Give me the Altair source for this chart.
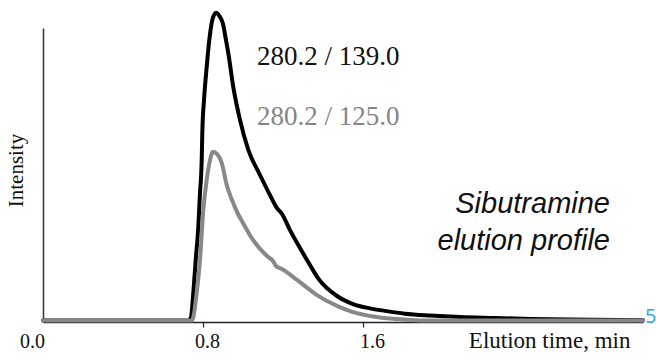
import altair as alt
import pandas as pd

# Elution time (min) and intensity (black peak = 100)
t_black = [0.0, 0.73, 0.74, 0.7515, 0.7635, 0.7765, 0.785, 0.7935, 0.7965, 0.805, 0.8185,
           0.8315, 0.8465, 0.865, 0.8815, 0.90, 0.915, 0.9265, 0.9515, 0.985, 1.0265,
           1.085, 1.135, 1.17, 1.195, 1.235, 1.285, 1.335, 1.375, 1.47, 1.55, 1.635,
           1.71, 1.81, 1.935, 2.085, 2.26, 2.435, 2.635, 3.0]
i_black = [0.5, 0.5, 1.5, 9.4, 20.0, 30.7, 41.7, 52.3, 61.1, 71.7, 82.4,
           91.1, 97.6, 99.9, 98.9, 96.3, 91.1, 86.9, 75.9, 65.3, 55.6,
           47.5, 41.0, 36.8, 34.9, 29.7, 23.9, 18.4, 14.2, 8.4, 5.8, 4.4,
           3.6, 2.7, 2.1, 1.6, 1.3, 1.0, 0.8, 0.6]

t_gray = [0.0, 0.745, 0.7515, 0.7685, 0.785, 0.8015, 0.8185, 0.835, 0.85, 0.87, 0.8935,
          0.9185, 0.945, 0.975, 1.0, 1.05, 1.12, 1.15, 1.165, 1.195, 1.27, 1.37, 1.47,
          1.55, 1.65, 1.76, 1.885, 3.0]
i_gray = [0.5, 0.5, 1.5, 9.4, 20.0, 36.2, 45.9, 52.3, 55.0, 54.3, 51.4,
          44.3, 39.4, 34.9, 32.0, 26.5, 21.3, 19.7, 18.1, 17.1, 13.6, 8.7, 5.2,
          3.2, 1.8, 1.0, 0.5, 0.5]

x_ticks = [0.0, 0.8, 1.6]
label_black = "280.2 / 139.0"
label_gray = "280.2 / 125.0"
title_lines = ["Sibutramine", "elution profile"]

df_black = pd.DataFrame({"t": t_black, "i": i_black})
df_gray = pd.DataFrame({"t": t_gray, "i": i_gray})

x_enc = alt.X(
    "t:Q",
    scale=alt.Scale(domain=[0, 3.0], nice=False, zero=False),
    axis=alt.Axis(
        values=x_ticks,
        format=".1f",
        title="Elution time, min",
        titleFont="Liberation Serif",
        titleFontSize=23,
        titleFontWeight="normal",
        titleColor="#111111",
        titleAnchor="end",
        titleAlign="right",
        titleBaseline="alphabetic",
        titleX=587,
        titleY=25,
        labelFont="Liberation Serif",
        labelFontSize=20,
        labelColor="#111111",
        labelPadding=4,
        labelFlush=False,
        labelBound=False,
        labelOverlap=False,
        labelOffset={"condition": [{"test": "datum.value === 0", "value": -11},
                                   {"test": "datum.value === 0.8", "value": 4}],
                     "value": 9},
        tickSize=5,
        tickColor="#222222",
        tickWidth=1.2,
        tickOpacity={"condition": {"test": "datum.value === 0", "value": 0}, "value": 1},
        domainColor="#222222",
        domainWidth=1.5,
        grid=False,
    ),
)
y_enc = alt.Y(
    "i:Q",
    scale=alt.Scale(domain=[0, 95], nice=False),
    axis=alt.Axis(
        title="Intensity",
        titleFont="Liberation Serif",
        titleFontSize=21,
        titleFontWeight="normal",
        titleColor="#111111",
        titleAngle=270,
        titleAlign="center",
        titleBaseline="middle",
        titleX=-27,
        titleY=142,
        labels=False,
        ticks=False,
        grid=False,
        domainColor="#333333",
        domainWidth=1.5,
    ),
)

black_line = alt.Chart(df_black).mark_line(
    color="#000000", strokeWidth=4, strokeJoin="round", strokeCap="round",
    interpolate="monotone"
).encode(x=x_enc, y=y_enc)

gray_line = alt.Chart(df_gray).mark_line(
    color="#888888", strokeWidth=4, strokeJoin="round", strokeCap="round",
    interpolate="monotone"
).encode(x="t:Q", y="i:Q")

txt_black = alt.Chart(pd.DataFrame({"s": [label_black]})).mark_text(
    font="Liberation Serif", fontSize=27, color="#111111", align="left", baseline="alphabetic"
).encode(text="s:N", x=alt.value(214), y=alt.value(37))

txt_gray = alt.Chart(pd.DataFrame({"s": [label_gray]})).mark_text(
    font="Liberation Serif", fontSize=27, color="#858585", align="left", baseline="alphabetic"
).encode(text="s:N", x=alt.value(214), y=alt.value(97))

txt_t1 = alt.Chart(pd.DataFrame({"s": [title_lines[0]]})).mark_text(
    font="Liberation Sans", fontSize=29, fontStyle="italic", color="#111111",
    align="right", baseline="alphabetic"
).encode(text="s:N", x=alt.value(567), y=alt.value(185))

txt_t2 = alt.Chart(pd.DataFrame({"s": [title_lines[1]]})).mark_text(
    font="Liberation Sans", fontSize=29, fontStyle="italic", color="#111111",
    align="right", baseline="alphabetic"
).encode(text="s:N", x=alt.value(567), y=alt.value(222))

txt_page = alt.Chart(pd.DataFrame({"s": ["5"]})).mark_text(
    font="Open Sans", fontSize=20, color="#2aa6e0", align="left", baseline="alphabetic"
).encode(text="s:N", x=alt.value(602), y=alt.value(295))

chart = alt.layer(
    black_line, gray_line, txt_black, txt_gray, txt_t1, txt_t2, txt_page
).properties(
    width=600,
    height=294,
    autosize=alt.AutoSizeParams(type="none"),
    padding={"left": 43, "top": 28, "right": 13, "bottom": 36},
    background="#ffffff",
).configure_view(stroke=None)

chart.save("out.html", embed_options={"renderer": "svg", "actions": False})
